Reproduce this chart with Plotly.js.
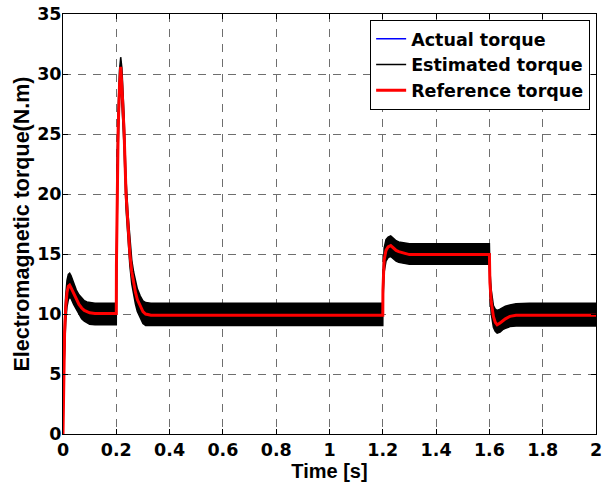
<!DOCTYPE html>
<html>
<head>
<meta charset="utf-8">
<script src="https://cdn.plot.ly/plotly-3.0.1.min.js"></script>
<style>html,body{margin:0;padding:0;background:#fff;}#chart{width:602px;height:489px;}</style>
</head>
<body>
<div id="chart"></div>
<script>
// Time samples [s]
var time = [0, 0.003, 0.006, 0.01, 0.015, 0.02, 0.025, 0.03, 0.04, 0.05, 0.06, 0.07, 0.08, 0.09, 0.1, 0.12, 0.2,
  0.2005, 0.203, 0.207, 0.212, 0.2165, 0.221, 0.229, 0.2365, 0.244, 0.251, 0.258, 0.265, 0.272, 0.279, 0.29, 0.3, 0.31, 0.33, 1.2,
  1.2005, 1.205, 1.212, 1.22, 1.2296, 1.24, 1.25, 1.26, 1.28, 1.3, 1.6,
  1.6005, 1.602, 1.607, 1.615, 1.622, 1.629, 1.64, 1.65, 1.66, 1.677, 1.7, 1.75, 2.0];

// Reference torque (N.m)
var refTorque = [0, 6, 8.5, 10.5, 11.8, 12.3, 12.4, 12.2, 11.7, 11.2, 10.8, 10.5, 10.3, 10.2, 10.1, 10.05, 10.05,
  14, 21, 25.5, 29, 30.6, 29, 25.3, 20, 17.2, 15, 13.5, 12.5, 11.8, 11.2, 10.6, 10.2, 10.0, 9.9, 9.9,
  12, 14.5, 15.3, 15.6, 15.7, 15.5, 15.3, 15.2, 15.05, 14.95, 14.95,
  13.5, 12.6, 11.0, 9.8, 9.3, 9.1, 9.25, 9.45, 9.6, 9.8, 9.9, 9.9, 9.9];

// Actual torque (N.m) - mostly hidden under the estimated-torque ripple
var actTorque = [0, 5.5, 8.2, 10.3, 11.9, 12.4, 12.5, 12.3, 11.8, 11.3, 10.9, 10.6, 10.4, 10.25, 10.15, 10.05, 10.05,
  14.5, 21.5, 26, 29.4, 30.8, 29.3, 25.6, 20.3, 17.4, 15.2, 13.7, 12.6, 11.9, 11.3, 10.7, 10.25, 10.0, 9.95, 9.95,
  12.3, 14.8, 15.5, 15.7, 15.8, 15.6, 15.4, 15.25, 15.1, 15.0, 15.0,
  13.3, 12.4, 10.8, 9.6, 9.1, 8.95, 9.1, 9.35, 9.55, 9.75, 9.9, 9.95, 9.95];

// Estimated torque ripple envelope (N.m)
var estUpper = [3.3, 7, 9.5, 11.5, 12.8, 13.3, 13.4, 13.2, 12.6, 12.0, 11.6, 11.3, 11.1, 11.0, 10.95, 10.9, 10.9,
  15, 22.5, 27, 30.3, 31.4, 30.5, 26.6, 21.2, 18.3, 16, 14.5, 13.5, 12.7, 12.1, 11.5, 11.1, 10.95, 10.9, 10.9,
  13, 15.5, 16.2, 16.4, 16.5, 16.3, 16.1, 16.0, 15.9, 15.85, 15.85,
  14.6, 13.6, 12.0, 10.7, 10.4, 10.3, 10.4, 10.55, 10.65, 10.75, 10.85, 10.9, 10.9];
var estLower = [3.3, 5, 7.5, 9.3, 10.6, 11.2, 11.4, 11.3, 10.8, 10.4, 9.9, 9.6, 9.4, 9.25, 9.15, 9.1, 9.1,
  13, 19.5, 24, 27.8, 29.6, 27.5, 24, 18.8, 16.1, 14, 12.5, 11.5, 10.8, 10.2, 9.6, 9.2, 9.05, 9.05, 9.05,
  11, 13.5, 14.4, 14.7, 14.8, 14.6, 14.4, 14.3, 14.2, 14.15, 14.15,
  12.4, 11.5, 10.0, 8.9, 8.55, 8.4, 8.5, 8.7, 8.8, 8.95, 9.0, 9.0, 9.0];

var seriesNames = ['Actual torque', 'Estimated torque', 'Reference torque'];
var xTickVals = [0, 0.2, 0.4, 0.6, 0.8, 1, 1.2, 1.4, 1.6, 1.8, 2];
var xTickText = ['0', '0.2', '0.4', '0.6', '0.8', '1', '1.2', '1.4', '1.6', '1.8', '2'];
var yTickVals = [0, 5, 10, 15, 20, 25, 30, 35];

var wideFont = 'DejaVu Sans, Arial, sans-serif';
var titleFont = 'Liberation Sans, Arial, sans-serif';

var traces = [
  {x: time, y: actTorque, type: 'scatter', mode: 'lines', name: seriesNames[0],
   line: {color: '#0000ff', width: 1.5}},
  {x: time, y: estLower, type: 'scatter', mode: 'lines', showlegend: false, hoverinfo: 'skip',
   line: {color: '#000000', width: 1.5}},
  {x: time, y: estUpper, type: 'scatter', mode: 'lines', showlegend: false, fill: 'tonexty',
   fillcolor: '#000000', line: {color: '#000000', width: 1.5}},
  {x: [null], y: [null], type: 'scatter', mode: 'lines', name: seriesNames[1],
   line: {color: '#000000', width: 1.5}},
  {x: time, y: refTorque, type: 'scatter', mode: 'lines', name: seriesNames[2],
   line: {color: '#ff0000', width: 3}}
];

var layout = {
  width: 602, height: 489,
  margin: {l: 63, r: 6, t: 14, b: 55},
  paper_bgcolor: '#ffffff', plot_bgcolor: '#ffffff',
  font: {family: wideFont, color: '#000000', size: 17, weight: 'bold'},
  showlegend: true,
  legend: {
    x: 0.989, y: 0.986, xanchor: 'right', yanchor: 'top',
    traceorder: 'normal',
    bgcolor: '#ffffff', bordercolor: '#000000', borderwidth: 1,
    font: {family: wideFont, size: 17.5, color: '#000000', weight: 'bold'},
    tracegroupgap: 0
  },
  xaxis: {
    range: [0, 2], tickmode: 'array', tickvals: xTickVals, ticktext: xTickText,
    showline: true, linecolor: '#000000', linewidth: 1, mirror: 'allticks',
    ticks: 'inside', ticklen: 5, tickcolor: '#000000',
    showgrid: true, gridcolor: '#6e6e6e', gridwidth: 1, griddash: '8px,7px',
    zeroline: false, ticklabeloverflow: 'allow',
    tickfont: {family: wideFont, size: 17.5, color: '#000000', weight: 'bold'},
    title: {text: 'Time [s]', font: {family: titleFont, size: 20, color: '#000000', weight: 'bold'}, standoff: 2}
  },
  yaxis: {
    range: [0, 35], tickmode: 'array', tickvals: yTickVals,
    showline: true, linecolor: '#000000', linewidth: 1, mirror: 'allticks',
    ticks: 'inside', ticklen: 5, tickcolor: '#000000',
    showgrid: true, gridcolor: '#6e6e6e', gridwidth: 1, griddash: '8px,7px',
    zeroline: false, ticklabelstandoff: -3,
    tickfont: {family: wideFont, size: 17.5, color: '#000000', weight: 'bold'},
    title: {text: 'Electromagnetic torque(N.m)', font: {family: titleFont, size: 21.5, color: '#000000', weight: 'bold'}, standoff: 1}
  }
};

Plotly.newPlot('chart', traces, layout, {displayModeBar: false, staticPlot: true});
</script>
</body>
</html>
